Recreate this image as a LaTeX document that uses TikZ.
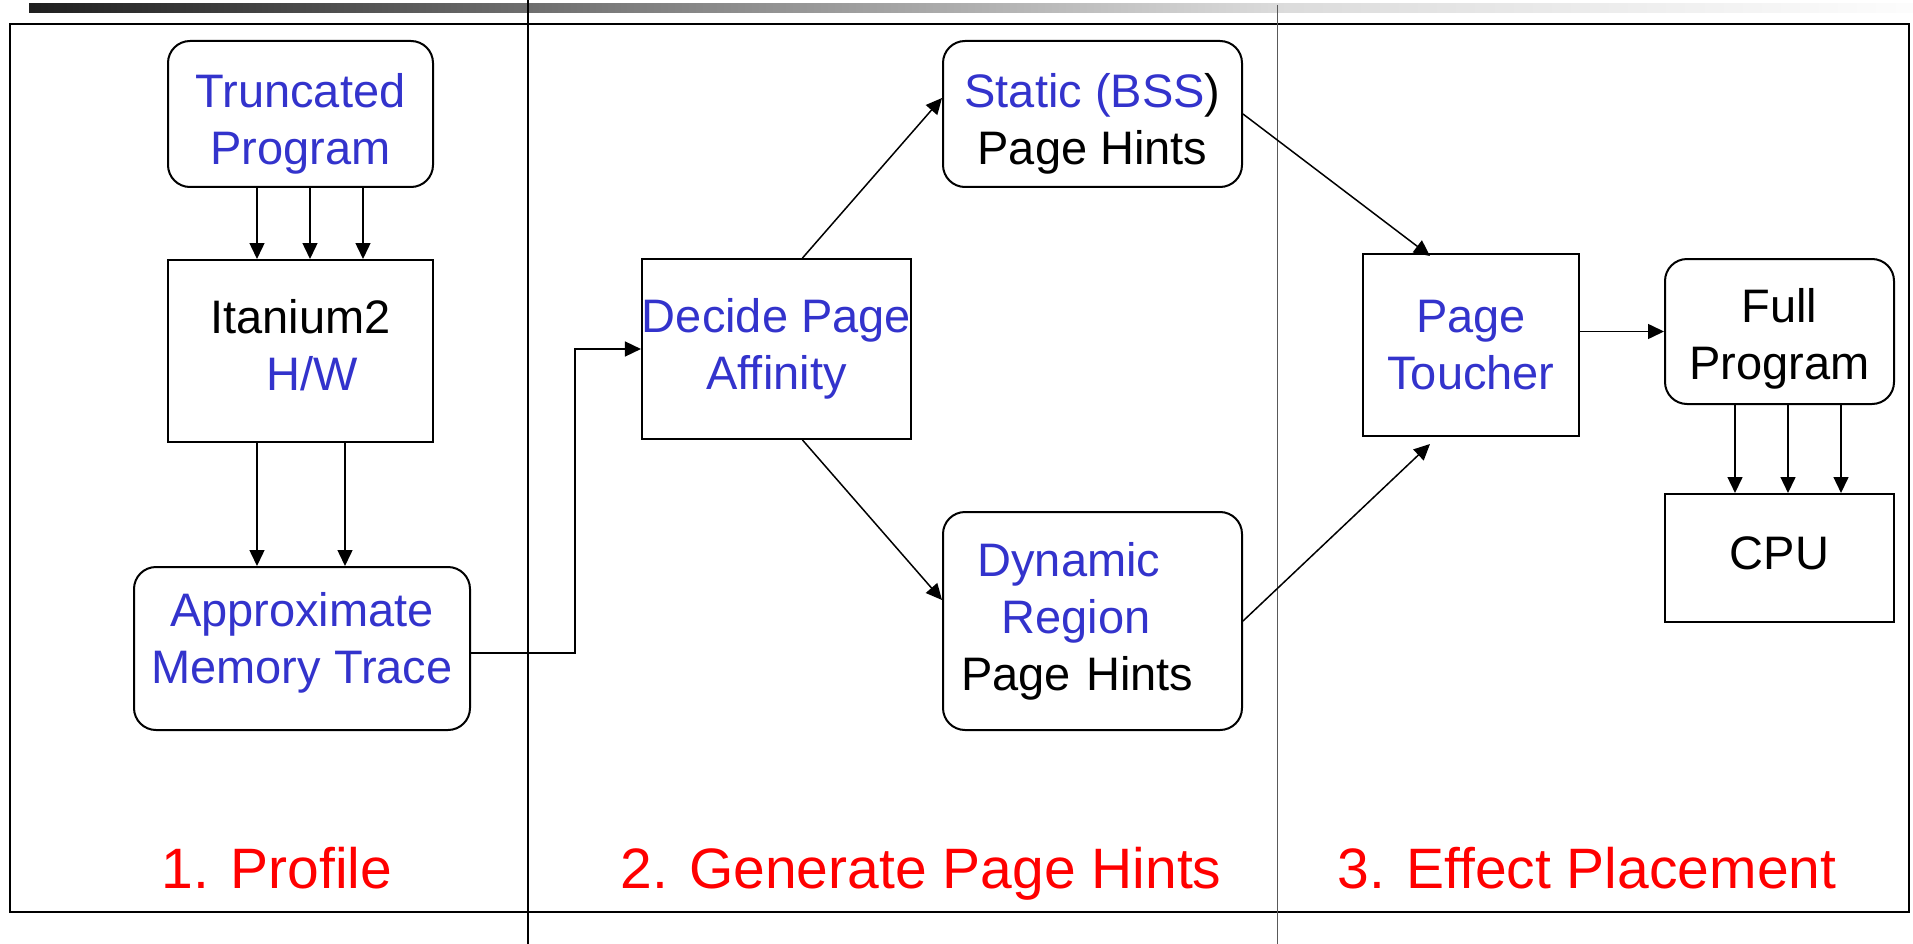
\documentclass[tikz,border=0pt]{standalone}
\usepackage{fontspec}
\setmainfont{Liberation Sans}
\usetikzlibrary{arrows.meta,calc}
\definecolor{hintblue}{RGB}{51,51,204}
\definecolor{barA}{gray}{0.12}
\definecolor{barB}{gray}{0.50}
\definecolor{barC}{gray}{0.86}
\definecolor{barD}{gray}{0.99}
\pgfdeclarehorizontalshading{titlebar}{100bp}{color(0bp)=(barA); color(25bp)=(barA);
  color(41.2bp)=(barB); color(58.2bp)=(barC); color(75bp)=(barD); color(100bp)=(barD)}
\newcommand{\boxtextfont}{\fontsize{47}{57}\selectfont}
\newcommand{\phasetextfont}{\fontsize{57}{68}\selectfont}
% struts that lower (top) or raise (bottom) a text block inside its box
\newcommand{\topstrut}[1]{\rule{0pt}{#1}}
\newcommand{\botstrut}[1]{\rule[-#1]{0pt}{#1}}
\begin{document}
\begin{tikzpicture}[x=1pt,y=-1pt,
  box/.style={draw, line width=2pt, align=center, inner sep=0pt, font=\boxtextfont},
  rbox/.style={box, rounded corners=22pt},
  arr/.style={line width=1.5pt, -{Triangle[length=16pt,width=15pt]}},
  phase/.style={text=red, font=\phasetextfont, anchor=base}]
\useasboundingbox (0,0) rectangle (1913,944);

% title bar gradient
\shade[shading=titlebar] (29,4) rectangle (1913,13);

% outer frame and phase dividers
\draw[line width=2.5pt] (10,24) rectangle (1909,912);
\draw[line width=1.2pt] (528,0) -- (528,944);
\draw[line width=1pt, black!65] (1277,5) -- (1277,944);

% phase 1: profile
\node[rbox, minimum width=265pt, minimum height=146pt] (P) at (300.5,114)
  {\topstrut{53pt}\textcolor{hintblue}{Truncated}\\\textcolor{hintblue}{Program}};
\node[box, minimum width=265pt, minimum height=182pt] (H) at (300.5,351)
  {Itanium2\\\hspace*{24pt}\textcolor{hintblue}{H/W}\botstrut{13pt}};
\node[rbox, minimum width=336pt, minimum height=163pt] (A) at (302,648.5)
  {\textcolor{hintblue}{Approximate}\\\textcolor{hintblue}{Memory Trace}\botstrut{22pt}};

% phase 2: generate page hints
\node[box, minimum width=265pt, minimum height=180pt] (D) at (776.5,349)
  {\textcolor{hintblue}{Decide Page}\\\textcolor{hintblue}{Affinity}};
\node[rbox, minimum width=299pt, minimum height=146pt] (S) at (1092.5,114)
  {\topstrut{54pt}\textcolor{hintblue}{Static (BSS})\\Page Hints};
\node[rbox, minimum width=299pt, minimum height=218pt, align=left, text width=250pt] (Y) at (1092.5,621)
  {\hspace*{10pt}\textcolor{hintblue}{Dynamic}\\\hspace*{34pt}\textcolor{hintblue}{Region}\\\hspace*{-6.5pt}Page Hints};

% phase 3: effect placement
\node[box, minimum width=216pt, minimum height=182pt] (T) at (1471,345)
  {\textcolor{hintblue}{Page}\\\textcolor{hintblue}{Toucher}};
\node[rbox, minimum width=229pt, minimum height=145pt] (F) at (1779.5,331.5)
  {\topstrut{48pt}Full\\Program};
\node[box, minimum width=229pt, minimum height=128pt] (C) at (1779.5,558)
  {CPU\botstrut{10pt}};

% connectors
\foreach \dx in {-43.5,9.5,62.5}
  \draw[arr] ($(P.south)+(\dx,0)$) coordinate (t) -- (t |- H.north);
\foreach \dx in {-43.5,44.5}
  \draw[arr] ($(H.south)+(\dx,0)$) coordinate (t) -- (t |- A.north);
\draw[arr] ($(A.east)+(0,4.5)$) -- ++(104,0) |- (D.west);
\draw[arr] ($(D.north)+(26,0)$) -- ($(S.west)+(0,-16)$);
\draw[arr] ($(D.south)+(26,0)$) -- ($(Y.west)+(0,-21)$);
\draw[arr] (S.east) -- ($(T.north)+(-41,3)$);
\draw[arr] (Y.east) -- ($(T.south)+(-41,7)$);
\draw[arr] (T.east |- F.west) -- (F.west);
\foreach \dx in {-44.5,8.5,61.5}
  \draw[arr] ($(F.south)+(\dx,0)$) coordinate (t) -- (t |- C.north);

% phase titles
\node[phase] (L1) at (277,888) {1. Profile};
\node[phase] (L2) at (921,888) {2. Generate Page Hints};
\node[phase] (L3) at (1587,888) {3. Effect Placement};
\end{tikzpicture}
\end{document}
